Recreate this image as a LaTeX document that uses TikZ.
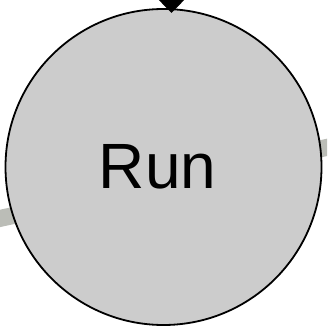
\documentclass[tikz,border=0pt]{standalone}
\usepackage{fontspec}
\setmainfont{Liberation Sans}
\usetikzlibrary{arrows.meta}
\definecolor{bandgray}{RGB}{187,189,183}
\definecolor{fillgray}{RGB}{204,204,204}
\tikzset{
  statecircle/.style={circle, draw=black, line width=1.8pt, fill=fillgray, minimum size=316pt, inner sep=0pt, font=\fontsize{64}{64}\selectfont},
  band/.style={draw=bandgray, line width=17pt},
  arrowin/.style={line width=1.5pt, -{Triangle[width=27pt,length=14pt]}}
}
\begin{document}
\begin{tikzpicture}[x=1pt,y=-1pt]
\useasboundingbox (0,0) rectangle (327,331);
\clip (0,0) rectangle (327,331);
\coordinate (bl) at (-5,219.5);
\coordinate (br) at (332,146.3);
\draw[band] (bl) -- (br);
\node[statecircle] (run) at (163.5,167) {};
\node[font=\fontsize{64}{64}\selectfont] (lbl) at (157.5,167) {Run};
\coordinate (src) at (171.5,-30);
\coordinate (tip) at (171.5,13);
\draw[arrowin] (src) -- (tip);
\end{tikzpicture}
\end{document}
